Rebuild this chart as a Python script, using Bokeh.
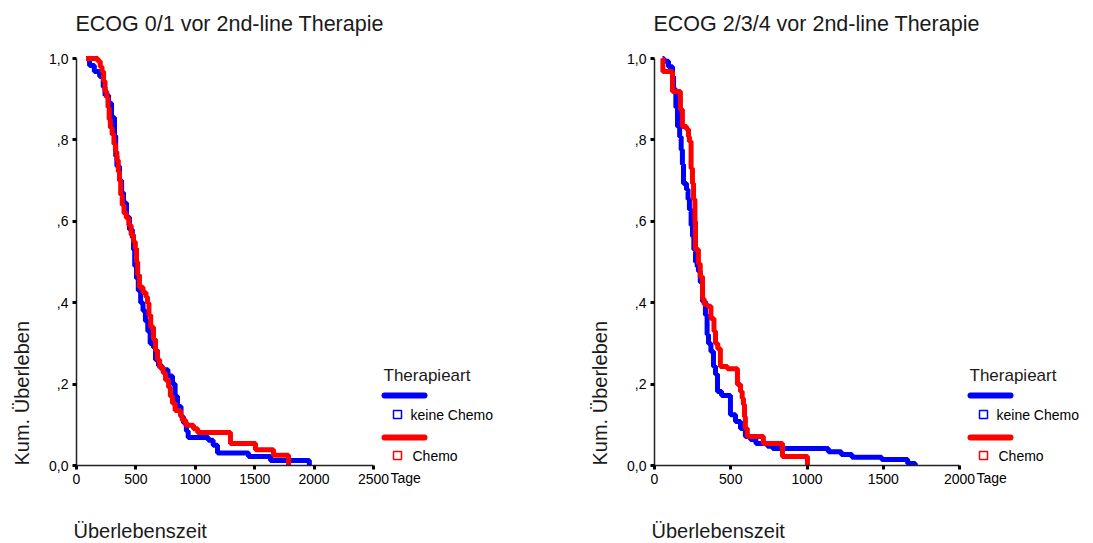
from bokeh.plotting import figure
from bokeh.layouts import row
from bokeh.models import Range1d, FixedTicker, Label, LinearAxis
from bokeh.embed import file_html
from bokeh.resources import INLINE

# ---------------- data ----------------
panel_titles = ["ECOG 0/1 vor 2nd-line Therapie", "ECOG 2/3/4 vor 2nd-line Therapie"]
group_labels = ["keine Chemo", "Chemo"]
legend_title = "Therapieart"
x_label = "Überlebenszeit"
y_label = "Kum. Überleben"
x_unit = "Tage"
x_ticks_left = [0, 500, 1000, 1500, 2000, 2500]
x_ticks_right = [0, 500, 1000, 1500, 2000]
y_ticks = [0.0, 0.2, 0.4, 0.6, 0.8, 1.0]
y_tick_labels = ["0,0", ",2", ",4", ",6", ",8", "1,0"]

# ECOG 0/1 - keine Chemo
t_keine_01 = [85, 110, 150, 195, 225, 240, 270, 295, 320, 330, 340, 362, 380, 396, 421, 446,
              470, 480, 490, 505, 520, 540, 560, 580, 600, 620, 648, 665, 690, 720, 770, 808,
              830, 850, 880, 900, 925, 940, 1110, 1150, 1187, 1448, 1633, 1960]
s_keine_01 = [1.0, 0.983, 0.968, 0.956, 0.93, 0.91, 0.89, 0.855, 0.81, 0.76, 0.735, 0.70, 0.67,
              0.645, 0.61, 0.58, 0.56, 0.53, 0.49, 0.46, 0.43, 0.40, 0.38, 0.355, 0.33, 0.30,
              0.29, 0.26, 0.245, 0.235, 0.22, 0.20, 0.17, 0.145, 0.12, 0.105, 0.085, 0.069,
              0.062, 0.05, 0.031, 0.022, 0.012, 0.0]
# ECOG 0/1 - Chemo
t_chemo_01 = [80, 180, 200, 215, 228, 240, 255, 265, 275, 285, 300, 315, 328, 340, 352, 362,
              372, 385, 400, 420, 440, 460, 480, 495, 505, 515, 530, 560, 585, 598, 610, 625,
              648, 665, 682, 700, 730, 749, 775, 790, 808, 830, 875, 890, 920, 985, 1020, 1296,
              1507, 1658, 1785]
s_chemo_01 = [1.0, 0.993, 0.98, 0.968, 0.945, 0.919, 0.904, 0.88, 0.85, 0.83, 0.813, 0.79,
              0.771, 0.75, 0.722, 0.70, 0.665, 0.64, 0.62, 0.608, 0.59, 0.567, 0.55, 0.534,
              0.50, 0.468, 0.438, 0.425, 0.414, 0.399, 0.37, 0.34, 0.31, 0.283, 0.26, 0.241,
              0.227, 0.21, 0.192, 0.17, 0.153, 0.135, 0.123, 0.111, 0.099, 0.09, 0.081, 0.054,
              0.039, 0.025, 0.0]
# ECOG 2/3/4 - keine Chemo
t_keine_234 = [55, 62, 92, 118, 125, 140, 151, 165, 175, 183, 190, 210, 220, 229, 240, 249,
               258, 269, 280, 288, 300, 315, 334, 345, 354, 370, 387, 400, 413, 440, 498, 531,
               564, 596, 629, 665, 741, 775, 1140, 1225, 1295, 1490, 1660, 1710]
s_keine_234 = [1.0, 0.993, 0.98, 0.956, 0.924, 0.88, 0.833, 0.808, 0.776, 0.74, 0.693, 0.678,
               0.654, 0.629, 0.59, 0.563, 0.531, 0.50, 0.489, 0.477, 0.45, 0.403, 0.37, 0.322,
               0.30, 0.28, 0.243, 0.224, 0.182, 0.172, 0.125, 0.108, 0.091, 0.071, 0.064,
               0.054, 0.047, 0.042, 0.034, 0.027, 0.020, 0.015, 0.005, 0.0]
# ECOG 2/3/4 - Chemo
t_chemo_234 = [52, 55, 118, 170, 183, 210, 223, 229, 240, 249, 256, 265, 269, 288, 300, 315,
               325, 347, 370, 390, 400, 415, 432, 478, 544, 564, 575, 583, 590, 596, 609, 714,
               839, 1003]
s_chemo_234 = [1.0, 0.968, 0.919, 0.875, 0.833, 0.826, 0.808, 0.796, 0.73, 0.693, 0.654, 0.60,
               0.531, 0.496, 0.464, 0.41, 0.396, 0.391, 0.361, 0.33, 0.30, 0.287, 0.243, 0.238,
               0.199, 0.182, 0.165, 0.15, 0.12, 0.091, 0.071, 0.054, 0.022, 0.0]

# ---------------- styling / layout ----------------
FONT = "Liberation Sans"
BLUE = "#0000ff"
RED = "#ff0000"
TXT = "#1a1a1a"
FIG_H = 543
TOP = 40          # title band
ORIGIN_Y = 465    # pixel row of survival 0 (from top)
Y_PX = 407.0      # pixels for survival 0..1


def make_panel(title, tb, sb, tr, sr, x_ticks, fig_w, origin_x, px_per_day):
    axis_end = x_ticks[-1]
    p = figure(width=fig_w, height=FIG_H,
               x_range=Range1d(-origin_x / px_per_day, (fig_w - origin_x) / px_per_day),
               y_range=Range1d(-(FIG_H - ORIGIN_Y) / Y_PX, (ORIGIN_Y - TOP) / Y_PX),
               x_axis_location=None, y_axis_location=None,
               output_backend="svg", toolbar_location=None,
               min_border_left=0, min_border_right=0,
               min_border_top=TOP, min_border_bottom=0,
               title=title)
    p.title.align = "left"
    p.title.offset = origin_x - 1
    p.title.text_font = FONT
    p.title.text_font_size = "21.5px"
    p.title.text_font_style = "normal"
    p.title.text_color = TXT
    for g in p.grid:
        g.visible = False
    p.outline_line_color = None
    p.background_fill_color = "white"
    p.border_fill_color = "white"

    xa = LinearAxis(fixed_location=0, ticker=FixedTicker(ticks=x_ticks), bounds=(0, axis_end))
    ya = LinearAxis(fixed_location=0, ticker=FixedTicker(ticks=y_ticks), bounds=(0, 1))
    ya.major_label_overrides = {v: s for v, s in zip(y_ticks, y_tick_labels)}
    for ax in (xa, ya):
        ax.axis_line_color = "#222222"
        ax.axis_line_width = 1.5
        ax.major_tick_line_color = "black"
        ax.major_tick_line_width = 3
        ax.major_tick_in = 0
        ax.major_tick_out = 4
        ax.minor_tick_line_color = None
        ax.major_label_standoff = 4
        ax.major_label_text_font = FONT
        ax.major_label_text_font_size = "14px"
        ax.major_label_text_color = "black"
    p.add_layout(xa, "below")
    p.add_layout(ya, "left")

    p.step(tb, sb, mode="after", line_color=BLUE, line_width=5)
    p.step(tr, sr, mode="after", line_color=RED, line_width=5)

    # axis texts
    p.add_layout(Label(x=0, y=0, x_offset=-55, y_offset=0, text=y_label, angle=90,
                       angle_units="deg", text_align="left", text_baseline="middle",
                       text_font=FONT, text_font_size="20px", text_color=TXT))
    p.add_layout(Label(x=0, y=0, x_offset=-3, y_offset=-65, text=x_label,
                       text_align="left", text_baseline="middle",
                       text_font=FONT, text_font_size="20px", text_color=TXT))
    p.add_layout(Label(x=axis_end, y=0, x_offset=17, y_offset=-12, text=x_unit,
                       text_align="left", text_baseline="middle",
                       text_font=FONT, text_font_size="14px", text_color="black"))

    # legend next to the axis end
    def dx(px):
        return axis_end + px / px_per_day

    def dy(px):
        return px / Y_PX

    p.add_layout(Label(x=axis_end, y=0, x_offset=10, y_offset=90, text=legend_title,
                       text_align="left", text_baseline="middle",
                       text_font=FONT, text_font_size="17px", text_color=TXT))
    for color, lab, line_up, sq_up, txt_dx in ((BLUE, group_labels[0], 70, 51, 37),
                                               (RED, group_labels[1], 28, 10, 39)):
        p.line([dx(11), dx(51)], [dy(line_up), dy(line_up)], line_color=color,
               line_width=6, line_cap="round")
        p.scatter([dx(24)], [dy(sq_up)], marker="square", size=8, fill_color="white",
                  line_color=color, line_width=1.5)
        p.add_layout(Label(x=axis_end, y=0, x_offset=txt_dx, y_offset=sq_up, text=lab,
                           text_align="left", text_baseline="middle",
                           text_font=FONT, text_font_size="14px", text_color="black"))
    return p


p1 = make_panel(panel_titles[0], t_keine_01, s_keine_01, t_chemo_01, s_chemo_01,
                x_ticks_left, 546, 76, 297 / 2500)
p2 = make_panel(panel_titles[1], t_keine_234, s_keine_234, t_chemo_234, s_chemo_234,
                x_ticks_right, 547, 108, 305 / 2000)

layout = row(p1, p2)
open("out.html", "w").write(file_html(layout, INLINE))
